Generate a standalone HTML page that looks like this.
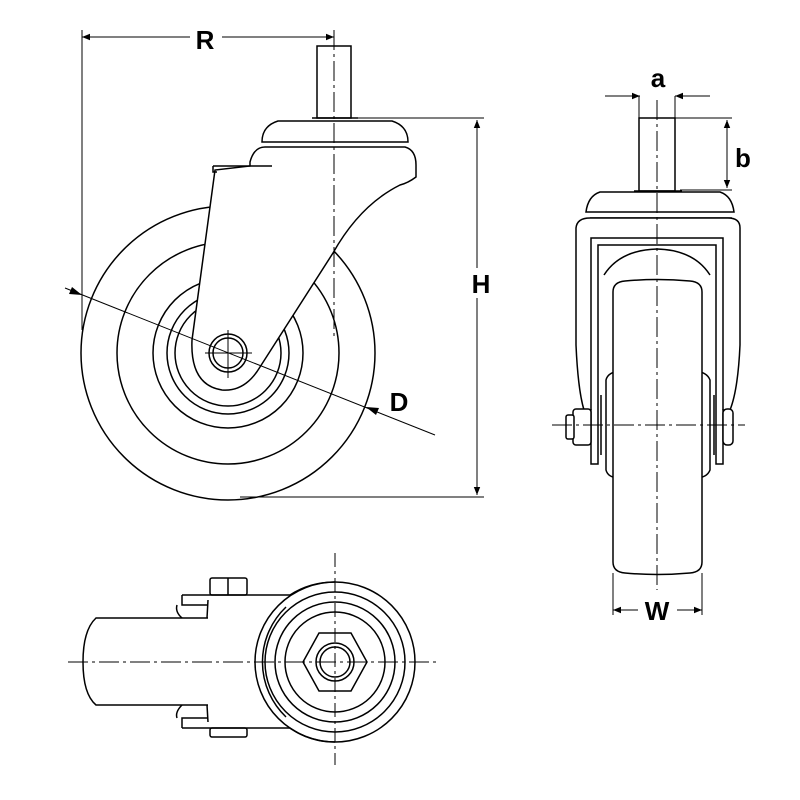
<!DOCTYPE html>
<html><head><meta charset="utf-8"><style>
html,body{margin:0;padding:0;background:#fff;}
svg{display:block}
text{font-family:"Liberation Sans",Arial,sans-serif;font-weight:bold;font-size:26px;text-anchor:middle;}
</style></head><body>
<svg width="800" height="800" viewBox="0 0 800 800" xmlns="http://www.w3.org/2000/svg">
<defs>
<marker id="ar" viewBox="0 0 10 10" refX="10" refY="5" markerWidth="12" markerHeight="8" orient="auto-start-reverse" markerUnits="userSpaceOnUse"><path d="M0,1 L10,5 L0,9 z" fill="#000"/></marker>
</defs>
<g fill="none" stroke="#000" stroke-width="1.5">
<!-- ===== SIDE VIEW ===== -->
<line x1="82" y1="30" x2="82" y2="330" stroke-width="1"/>
<line x1="82" y1="37" x2="190" y2="37" stroke-width="1" marker-start="url(#ar)"/>
<line x1="222" y1="37" x2="334" y2="37" stroke-width="1" marker-end="url(#ar)"/>
<circle cx="228" cy="353" r="147"/>
<circle cx="228" cy="353" r="111"/>
<circle cx="228" cy="353" r="75"/>
<circle cx="228" cy="353" r="61"/>
<circle cx="228" cy="353" r="53"/>
<rect x="317" y="46" width="34" height="72" fill="#fff"/>
<line x1="312" y1="118" x2="358" y2="118"/>
<path d="M262,142 Q262,126 278,121 L392,121 Q408,126 408,142 Z" fill="#fff"/>
<path d="M250,162 Q254,147 265,147 L405,147 Q416,150 416,165 L416,177 Q408,183 400,185 Q360,205 333,253 L260,367 Q245,392 222,390 Q190,385 192,340 L215,170 L250,166 Z" fill="#fff"/>
<line x1="213" y1="166" x2="272" y2="166"/>
<path d="M213,166 L213,172 L217,172"/>
<circle cx="228" cy="353" r="19" fill="#fff"/>
<circle cx="228" cy="353" r="15"/>
<line x1="205" y1="353" x2="252" y2="353" stroke-width="1"/>
<line x1="228" y1="330" x2="228" y2="378" stroke-width="1"/>
<line x1="334" y1="30" x2="334" y2="338" stroke-width="1" stroke-dasharray="20,4,3,4"/>
<line x1="358" y1="118" x2="484" y2="118" stroke-width="1"/>
<line x1="240" y1="497" x2="484" y2="497" stroke-width="1"/>
<line x1="477" y1="120" x2="477" y2="268" stroke-width="1" marker-start="url(#ar)"/>
<line x1="477" y1="298" x2="477" y2="495" stroke-width="1" marker-end="url(#ar)"/>
<line x1="65" y1="288" x2="435" y2="435" stroke-width="1"/>
<path d="M82,295 l-13,-1 l3,-7 z" fill="#000" stroke="none"/>
<path d="M366,407 l13,1 l-3,7 z" fill="#000" stroke="none"/>

<!-- ===== FRONT VIEW ===== -->
<line x1="605" y1="96" x2="640" y2="96" stroke-width="1" marker-end="url(#ar)"/>
<line x1="710" y1="96" x2="675" y2="96" stroke-width="1" marker-end="url(#ar)"/>
<line x1="639" y1="96" x2="639" y2="118" stroke-width="1"/>
<line x1="675" y1="96" x2="675" y2="118" stroke-width="1"/>
<line x1="675" y1="118" x2="732" y2="118" stroke-width="1"/>
<line x1="680" y1="190" x2="732" y2="190" stroke-width="1"/>
<line x1="727" y1="120" x2="727" y2="188" stroke-width="1" marker-start="url(#ar)" marker-end="url(#ar)"/>
<rect x="639" y="118" width="36" height="73"/>
<line x1="634" y1="191" x2="682" y2="191"/>
<path d="M586,212 Q588,196 600,192 L720,192 Q732,196 734,212 Z" fill="#fff"/>
<line x1="590" y1="218" x2="732" y2="218"/>
<path d="M576,228 Q577,218 590,218 L728,218 Q740,218 740,228 L740,345 Q738,390 730,410 L723,410 L723,464 L716,464 L716,245 L598,245 L598,464 L591,464 L591,410 L584,410 Q578,390 576,345 Z" fill="#fff"/>
<path d="M591,410 L591,238 L723,238 L723,410"/>
<path d="M604,275 Q620,250 657,249 Q694,250 710,275"/>
<path d="M606,380 Q608,372 620,371 L695,371 Q707,372 710,380 L710,470 Q707,478 695,478 L620,478 Q608,478 606,470 Z" fill="#fff"/>
<line x1="601" y1="395" x2="601" y2="455"/>
<line x1="714" y1="395" x2="714" y2="455"/>
<path d="M613,292 Q613,282 625,281 Q657,278 690,281 Q702,282 702,292 L702,562 Q702,572 690,573 Q657,576 625,573 Q613,572 613,562 Z" fill="#fff"/>
<rect x="573" y="409" width="18" height="36" rx="3" fill="#fff"/>
<rect x="566" y="415" width="8" height="24" rx="2" fill="#fff"/>
<rect x="723" y="409" width="10" height="36" rx="4" fill="#fff"/>
<line x1="657" y1="100" x2="657" y2="590" stroke-width="1" stroke-dasharray="20,4,3,4"/>
<line x1="552" y1="425" x2="745" y2="425" stroke-width="1" stroke-dasharray="20,4,3,4"/>
<line x1="613" y1="573" x2="613" y2="615" stroke-width="1"/>
<line x1="702" y1="573" x2="702" y2="615" stroke-width="1"/>
<line x1="613" y1="610" x2="638" y2="610" stroke-width="1" marker-start="url(#ar)"/>
<line x1="677" y1="610" x2="702" y2="610" stroke-width="1" marker-end="url(#ar)"/>

<!-- ===== TOP VIEW ===== -->
<path d="M182,595 L290,595 Q310,582 335,582"/>
<path d="M182,728 L290,728 Q310,742 335,742"/>
<circle cx="335" cy="662" r="80"/>
<circle cx="335" cy="662" r="70"/>
<circle cx="335" cy="662" r="60"/>
<circle cx="335" cy="662" r="50"/>
<path d="M286,607 A76,76 0 0 0 286,717"/>
<polygon points="303,662 319,633 351,633 367,662 351,691 319,691" fill="#fff"/>
<circle cx="335" cy="662" r="19"/>
<circle cx="335" cy="662" r="15"/>
<path d="M208,605 L182,605 L182,595"/>
<path d="M208,718 L182,718 L182,728"/>
<path d="M208,600 Q204,662 208,722"/>
<path d="M208,618 L96,618 Q83,630 83,662 Q83,694 96,705 L208,705" fill="#fff"/>
<path d="M182,618 Q175,612 177,605"/>
<path d="M182,705 Q175,712 177,718"/>
<rect x="210" y="578" width="37" height="17" rx="2"/>
<line x1="228" y1="578" x2="228" y2="595"/>
<rect x="210" y="728" width="37" height="9" rx="2"/>
<line x1="68" y1="662" x2="440" y2="662" stroke-width="1" stroke-dasharray="20,4,3,4"/>
<line x1="335" y1="553" x2="335" y2="765" stroke-width="1" stroke-dasharray="14,4,3,4"/>
</g>
<text x="205" y="49">R</text>
<text x="481" y="293">H</text>
<text x="399" y="411">D</text>
<text x="658" y="87">a</text>
<text x="743" y="167">b</text>
<text x="657" y="620">W</text>
</svg>
</body></html>
